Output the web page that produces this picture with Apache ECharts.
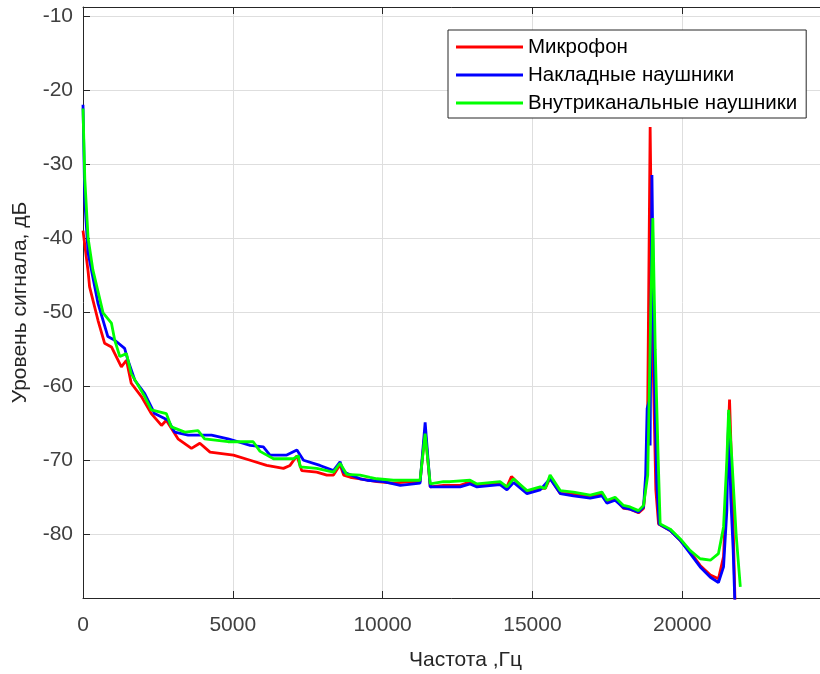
<!DOCTYPE html>
<html>
<head>
<meta charset="utf-8">
<script src="https://cdn.jsdelivr.net/npm/echarts@6/dist/echarts.min.js"></script>
<style>
  html, body { margin: 0; padding: 0; background: #fff; }
  #spektr { width: 820px; height: 674px; }
</style>
</head>
<body>
<div id="spektr"></div>
<script>
// Spektr: [Frequenz Hz, Pegel dB]
var mikrofon = [
  [0,-39],[170,-44.5],[220,-46.6],[500,-51.1],[720,-54.2],[950,-54.7],[1280,-57.4],[1450,-56.5],
  [1610,-59.6],[1950,-61.4],[2280,-63.7],[2620,-65.3],[2780,-64.6],[3170,-67.1],[3620,-68.4],
  [3900,-67.7],[4240,-68.9],[5020,-69.3],[5580,-70],[6130,-70.7],[6690,-71.1],[6910,-70.7],
  [7140,-69.4],[7300,-71.4],[7800,-71.6],[8140,-72],[8360,-72],[8580,-70.6],[8700,-72],
  [8920,-72.3],[9250,-72.5],[9810,-72.9],[10360,-73.1],[10920,-72.9],[11250,-72.9],[11420,-66],
  [11590,-73.6],[12030,-73.4],[12590,-73.4],[12920,-72.9],[13150,-73.4],[13920,-73.1],[14150,-73.6],
  [14300,-72.2],[14820,-74.3],[15260,-73.8],[15430,-73.8],[15590,-72.4],[15930,-74.5],[16370,-74.5],
  [16930,-74.9],[17320,-74.5],[17490,-75.6],[17760,-75.2],[18040,-76.5],[18260,-76.6],[18540,-77.1],
  [18710,-76.5],[18830,-71],[18930,-25],[19020,-55],[19120,-74],[19210,-78.6],[19600,-79.5],
  [19930,-80.8],[20270,-82.4],[20600,-84.2],[20940,-85.5],[21210,-86],[21380,-83],[21490,-72],
  [21580,-61.8],[21660,-72],[21780,-92]
];
var nakladnye = [
  [0,-22],[60,-35],[170,-42],[500,-48.8],[830,-53.3],[1060,-53.8],[1390,-54.9],[1500,-56.5],
  [1730,-59.2],[2060,-61],[2390,-63.7],[2840,-64.6],[3060,-66.2],[3510,-66.6],[4290,-66.6],
  [4840,-67.1],[5580,-68],[6020,-68.2],[6240,-69.3],[6800,-69.3],[7140,-68.6],[7360,-70],
  [7910,-70.7],[8360,-71.4],[8580,-70.2],[8700,-71.6],[9250,-72.5],[9480,-72.7],[10030,-72.9],
  [10590,-73.4],[11250,-73.1],[11420,-64.9],[11590,-73.6],[12030,-73.6],[12590,-73.6],[12920,-73.2],
  [13150,-73.6],[13920,-73.3],[14150,-74],[14370,-73],[14820,-74.5],[15260,-74],[15590,-72.5],
  [15930,-74.5],[16370,-74.8],[16930,-75.1],[17320,-74.8],[17490,-75.8],[17760,-75.4],[18040,-76.4],
  [18260,-76.6],[18540,-77],[18710,-76.3],[18780,-72],[18830,-63],[18900,-62],[18930,-68],
  [18990,-31.5],[19070,-58],[19150,-73],[19230,-78.6],[19600,-79.5],[19930,-80.8],[20270,-82.6],
  [20600,-84.4],[20940,-85.8],[21210,-86.5],[21380,-84.4],[21490,-76.8],[21550,-63.6],[21620,-75],
  [21700,-82],[21780,-92]
];
var vnutrikanalnye = [
  [0,-22.5],[60,-32],[170,-40],[330,-44.3],[670,-50.1],[950,-51.5],[1060,-53.8],[1230,-56],
  [1450,-55.6],[1610,-58.3],[2060,-61.4],[2280,-63.2],[2780,-63.7],[2950,-65.5],[3400,-66.2],
  [3840,-66],[4060,-67.1],[4840,-67.5],[5680,-67.5],[5910,-68.8],[6360,-69.8],[7020,-69.8],
  [7190,-69.4],[7250,-70.9],[7800,-71.1],[8360,-71.6],[8580,-70.4],[8800,-71.9],[9250,-72],
  [9580,-72.3],[9810,-72.5],[10360,-72.7],[11250,-72.7],[11420,-66.4],[11590,-73.2],[12030,-72.9],
  [12250,-72.9],[12920,-72.7],[13150,-73.2],[13920,-72.9],[14150,-73.6],[14370,-72.5],[14820,-74.1],
  [15260,-73.6],[15430,-73.8],[15590,-72],[15930,-74.1],[16370,-74.3],[16930,-74.7],[17320,-74.3],
  [17490,-75.4],[17760,-75],[18040,-76.1],[18260,-76.3],[18540,-76.8],[18710,-76.1],[18850,-72],
  [18950,-50],[19020,-37.3],[19100,-55],[19200,-70],[19265,-78.6],[19600,-79.3],[19930,-80.6],
  [20270,-82.2],[20600,-83.3],[20940,-83.5],[21210,-82.6],[21380,-79],[21490,-70],[21550,-63.2],
  [21660,-70],[21800,-80],[21940,-87.1]
];
var yTicks = [-80, -70, -60, -50, -40, -30, -20, -10];
var xTicks = [0, 5000, 10000, 15000, 20000];

var font = 'Liberation Sans';
var achsenFarbe = '#262626';
var chart = echarts.init(document.getElementById('spektr'));

function linie(name, farbe, daten) {
  return {
    name: name,
    type: 'line',
    data: daten,
    symbol: 'none',
    color: farbe,
    lineStyle: { width: 2.8, color: farbe },
    clip: true,
    animation: false
  };
}

chart.setOption({
  backgroundColor: '#fff',
  textStyle: { fontFamily: font },
  grid: { left: 83, top: 7, width: 749, height: 591, containLabel: false, outerBoundsMode: 'none' },
  legend: {
    orient: 'vertical',
    left: 448,
    top: 30,
    padding: [6, 9, 4, 8],
    itemGap: 6,
    itemWidth: 67,
    itemHeight: 3,
    icon: 'rect',
    backgroundColor: '#fff',
    borderColor: achsenFarbe,
    borderWidth: 1,
    borderRadius: 0,
    textStyle: { fontFamily: font, fontSize: 20.5, color: '#000', lineHeight: 22 },
    data: ['Микрофон', 'Накладные наушники', 'Внутриканальные наушники']
  },
  xAxis: [{
    type: 'value',
    min: 0,
    max: 25000,
    interval: 5000,
    name: 'Частота ,Гц',
    nameLocation: 'middle',
    nameGap: 52,
    nameTextStyle: { fontFamily: font, fontSize: 21, color: achsenFarbe, padding: [0, 0, 0, 16] },
    axisLine: { show: true, lineStyle: { color: achsenFarbe, width: 1 } },
    axisTick: { show: true, inside: true, length: 7, lineStyle: { color: achsenFarbe } },
    axisLabel: {
      fontFamily: font, fontSize: 21, color: '#404040', margin: 17,
      customValues: xTicks,
      formatter: function (v) { return String(v); }
    },
    splitLine: { show: true, lineStyle: { color: '#dedede', width: 1 } }
  }, {
    type: 'value',
    position: 'top',
    min: 0,
    max: 25000,
    interval: 5000,
    axisLine: { show: true, lineStyle: { color: achsenFarbe, width: 1 } },
    axisTick: { show: true, inside: true, length: 7, lineStyle: { color: achsenFarbe } },
    axisLabel: { show: false },
    splitLine: { show: false }
  }],
  yAxis: {
    type: 'value',
    min: -88.6,
    max: -8.8,
    name: 'Уровень сигнала, дБ',
    nameLocation: 'middle',
    nameGap: 52,
    nameTextStyle: { fontFamily: font, fontSize: 21, color: achsenFarbe },
    axisLine: { show: true, lineStyle: { color: achsenFarbe, width: 1 } },
    axisTick: { show: true, inside: true, length: 7, customValues: yTicks, lineStyle: { color: achsenFarbe } },
    axisLabel: { fontFamily: font, fontSize: 21, color: '#404040', margin: 10, customValues: yTicks },
    splitLine: { show: true, lineStyle: { color: '#dedede', width: 1 } }
  },
  series: [
    linie('Микрофон', '#ff0000', mikrofon),
    linie('Накладные наушники', '#0000ff', nakladnye),
    linie('Внутриканальные наушники', '#00ff00', vnutrikanalnye)
  ]
});

window.addEventListener('resize', function () {
  chart.resize();
});
</script>
</body>
</html>
